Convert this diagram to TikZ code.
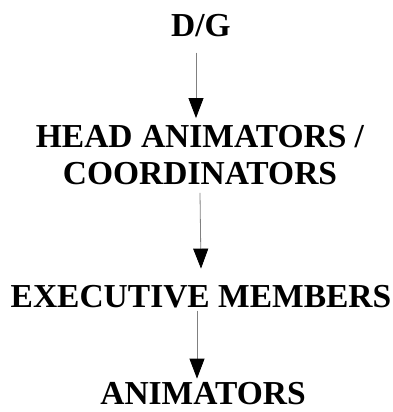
\documentclass[tikz,border=0pt]{standalone}
\usepackage{fontspec}
\setmainfont{Liberation Serif}
\usetikzlibrary{arrows.meta}
\begin{document}
\begin{tikzpicture}[x=1pt,y=1pt,
  lbl/.style={inner sep=0pt,align=center,font=\fontsize{33.5}{37}\selectfont\bfseries},
  arr/.style={draw=black!50,line width=0.8pt,-{Triangle[length=20pt,width=15pt,black]}}]
\useasboundingbox[fill=white] (0,0) rectangle (393,412);
\node[lbl,anchor=base] (dg) at (201,375) {D/G};
\node[lbl] (head) at (200,257) {HEAD ANIMATORS /\\COORDINATORS};
\node[lbl,anchor=base] (exec) at (201,104) {EXECUTIVE MEMBERS};
\node[lbl,anchor=base] (anim) at (203,7) {ANIMATORS};
\draw[arr] ([xshift=-5pt,yshift=-15pt]dg.south) -- ([xshift=-4pt,yshift=7pt]head.north);
\draw[arr] ([yshift=-8pt]head.south) -- ([xshift=0pt,yshift=17pt]exec.north);
\draw[arr] ([xshift=-4pt,yshift=-2pt]exec.south) -- ([xshift=-6pt,yshift=4pt]anim.north);
\end{tikzpicture}
\end{document}
